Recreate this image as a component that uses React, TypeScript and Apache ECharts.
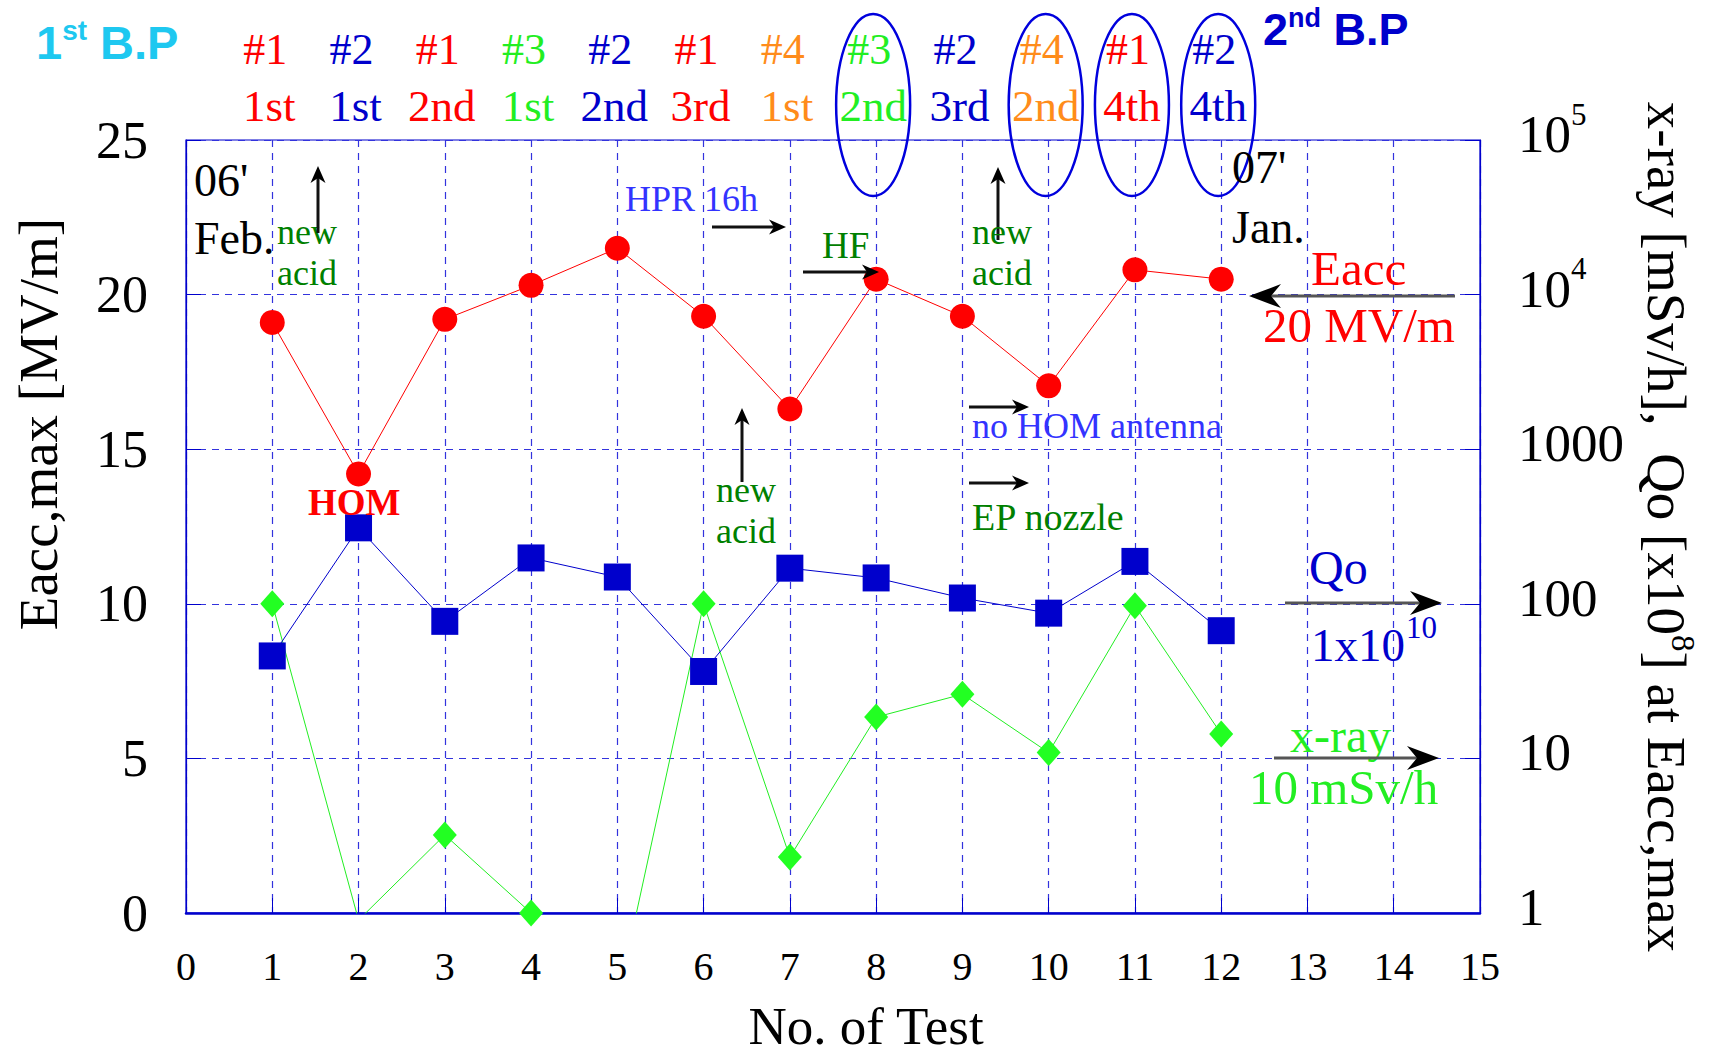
import React, { useEffect, useRef } from 'react';
import * as echarts from 'echarts';

// ---------- data ----------
const tests = [1, 2, 3, 4, 5, 6, 7, 8, 9, 10, 11, 12];
const eaccMax = [19.1, 14.2, 19.2, 20.3, 21.5, 19.3, 16.3, 20.5, 19.3, 17.05, 20.8, 20.5];
// Qo in units of 1e8
const qo = [46, 310, 77, 198, 149, 36.5, 170, 147, 109, 87, 188, 67];
// x-ray in mSv/h at Eacc,max
const xray = [100, 0.9, 3.2, 1.0, 0.27, 100, 2.3, 18.5, 26, 10.9, 97, 14.4];
const cavities = ['#1', '#2', '#1', '#3', '#2', '#1', '#4', '#3', '#2', '#4', '#1', '#2'];
const testOrder = ['1st', '1st', '2nd', '1st', '2nd', '3rd', '1st', '2nd', '3rd', '2nd', '4th', '4th'];
const circled = [false, false, false, false, false, false, false, true, false, true, true, true];
const xRange = [0, 15];
const leftRange = [0, 25];
const rightRange = [1, 100000];

const cavityColor: Record<string, string> = {
  '#1': '#ff0000',
  '#2': '#0000cc',
  '#3': '#22ee22',
  '#4': '#ff8c1a',
};

const SERIF = '"Liberation Serif", "Times New Roman", Times, serif';
const SANS = '"Liberation Sans", Arial, Helvetica, sans-serif';
const BLUE = '#0000cc';
const GRID_BLUE = '#3333dd';
const DKGREEN = '#008000';
const LTBLUE = '#3333ff';
const GREEN = '#22ee22';

function txt(x: number, y: number, text: string, size: number, color: string, opts: any = {}) {
  return {
    type: 'text',
    x,
    y,
    rotation: opts.rotation || 0,
    z: 100,
    silent: true,
    style: {
      text,
      fill: color,
      fontSize: size,
      fontFamily: opts.family || SERIF,
      fontWeight: opts.weight || 'normal',
      align: opts.align || 'left',
      verticalAlign: 'middle',
      textAlign: opts.align || 'left',
      textVerticalAlign: 'middle',
      lineHeight: opts.lineHeight,
      rich: opts.rich,
    },
  };
}

function arrow(x1: number, y1: number, x2: number, y2: number, big: boolean) {
  const L = big ? 32 : 17;
  const W = big ? 12 : 7.5;
  const N = big ? 10 : 5;
  const ang = Math.atan2(y2 - y1, x2 - x1);
  const ux = Math.cos(ang);
  const uy = Math.sin(ang);
  const px = -uy;
  const py = ux;
  const bx = x2 - ux * L;
  const by = y2 - uy * L;
  const nx = x2 - ux * (L - N);
  const ny = y2 - uy * (L - N);
  return [
    {
      type: 'line',
      z: 100,
      silent: true,
      shape: { x1, y1, x2: nx, y2: ny },
      style: { stroke: big ? '#555555' : '#111111', lineWidth: 3 },
    },
    {
      type: 'polygon',
      z: 101,
      silent: true,
      shape: {
        points: [
          [x2, y2],
          [bx + px * W, by + py * W],
          [nx, ny],
          [bx - px * W, by - py * W],
        ],
      },
      style: { fill: '#000000' },
    },
  ];
}

export default function App() {
  const ref = useRef<HTMLDivElement>(null);

  useEffect(() => {
    if (!ref.current) return;
    const chart = echarts.init(ref.current, null, { renderer: 'svg' });

    const headerRender = (params: any, api: any) => {
      const i = params.dataIndex;
      const p = api.coord([api.value(0), api.value(1)]);
      const cx = p[0];
      const top = p[1];
      const color = cavityColor[cavities[i]];
      const children: any[] = [
        {
          type: 'text',
          x: cx - 7,
          y: top - 91,
          style: {
            text: cavities[i],
            fill: color,
            fontSize: 44,
            fontFamily: SERIF,
            align: 'center',
            verticalAlign: 'middle',
            textAlign: 'center',
            textVerticalAlign: 'middle',
          },
        },
        {
          type: 'text',
          x: cx - 3,
          y: top - 34,
          style: {
            text: testOrder[i],
            fill: color,
            fontSize: 45,
            fontFamily: SERIF,
            align: 'center',
            verticalAlign: 'middle',
            textAlign: 'center',
            textVerticalAlign: 'middle',
          },
        },
      ];
      if (circled[i]) {
        children.push({
          type: 'ellipse',
          shape: { cx: cx - 3, cy: top - 35, rx: 37, ry: 91 },
          style: { fill: 'none', stroke: '#0000dd', lineWidth: 2.5 },
        });
      }
      return { type: 'group', children };
    };

    const annotations: any[] = [
      txt(36, 42, '{a|1}{s|st}{a| B.P}', 47, '#1ec8f0', {
        rich: {
          a: { fontSize: 47, fontFamily: SANS, fontWeight: 'bold', color: '#1ec8f0' },
          s: { fontSize: 28, fontFamily: SANS, fontWeight: 'bold', color: '#1ec8f0', padding: [0, 0, 24, 0] },
        },
      }),
      txt(1263, 29, '{a|2}{s|nd}{a| B.P}', 45, BLUE, {
        rich: {
          a: { fontSize: 45, fontFamily: SANS, fontWeight: 'bold', color: BLUE },
          s: { fontSize: 27, fontFamily: SANS, fontWeight: 'bold', color: BLUE, padding: [0, 0, 22, 0] },
        },
      }),
      txt(194, 180, "06'", 46, '#000'),
      txt(194, 238, 'Feb.', 46, '#000'),
      txt(277, 232, 'new', 36, DKGREEN),
      txt(277, 273, 'acid', 36, DKGREEN),
      ...arrow(318, 233, 318, 166, false),
      txt(625, 199, 'HPR 16h', 36, LTBLUE),
      ...arrow(712, 227, 786, 227, false),
      txt(822, 245, 'HF', 37, DKGREEN),
      ...arrow(803, 272, 879, 272, false),
      txt(308, 502, 'HOM', 37, '#ff0000', { weight: 'bold' }),
      ...arrow(742, 482, 742, 408, false),
      txt(716, 490, 'new', 36, DKGREEN),
      txt(716, 531, 'acid', 36, DKGREEN),
      ...arrow(998, 240, 998, 167, false),
      txt(972, 232, 'new', 36, DKGREEN),
      txt(972, 273, 'acid', 36, DKGREEN),
      txt(1232, 167, "07'", 46, '#000'),
      txt(1232, 227, 'Jan.', 46, '#000'),
      ...arrow(969, 407, 1029, 407, false),
      txt(972, 426, 'no HOM antenna', 36, LTBLUE),
      ...arrow(969, 483, 1029, 483, false),
      txt(972, 517, 'EP nozzle', 38, DKGREEN),
      txt(1311, 268, 'Eacc', 49, '#ff0000'),
      ...arrow(1455, 296, 1249, 296, true),
      txt(1263, 325, '20 MV/m', 49, '#ff0000'),
      txt(1309, 567, 'Qo', 48, BLUE),
      ...arrow(1285, 603, 1442, 603, true),
      txt(1311, 645, '1x10', 47, BLUE),
      txt(1406, 627, '10', 31, BLUE),
      txt(1290, 735, 'x-ray', 48, GREEN),
      ...arrow(1274, 758, 1439, 758, true),
      txt(1249, 787, '10 mSv/h', 49, GREEN),
      // axis titles
      txt(38, 424, 'Eacc,max [MV/m]', 55, '#000', { align: 'center', rotation: Math.PI / 2 }),
      txt(866, 1026, 'No. of Test', 53, '#000', { align: 'center', lineHeight: 50 }),
      txt(1666, 527, '{a|x-ray [mSv/h],  Qo [x10}{s|8}{a|] at Eacc,max}', 55, '#000', {
        align: 'center',
        rotation: -Math.PI / 2,
        rich: {
          a: { fontSize: 55, fontFamily: SERIF, color: '#000' },
          s: { fontSize: 33, fontFamily: SERIF, color: '#000', padding: [0, 0, 34, 0] },
        },
      }),
    ];

    const dashed = { color: GRID_BLUE, width: 1.2, type: [7, 6] as any };

    chart.setOption({
      animation: false,
      backgroundColor: '#ffffff',
      grid: {
        left: 186,
        right: 233,
        top: 140,
        bottom: 142,
        show: true,
        borderColor: BLUE,
        borderWidth: 1.2,
        backgroundColor: 'transparent',
      },
      xAxis: {
        type: 'value',
        min: xRange[0],
        max: xRange[1],
        interval: 1,
        axisLine: { show: true, onZero: false, lineStyle: { color: BLUE, width: 2.5 } },
        axisTick: { show: true, inside: true, length: 15, lineStyle: { color: BLUE, width: 1 } },
        splitLine: { show: true, lineStyle: dashed },
        axisLabel: { fontSize: 40, fontFamily: SERIF, color: '#000', margin: 33 },
      },
      yAxis: [
        {
          type: 'value',
          position: 'left',
          min: leftRange[0],
          max: leftRange[1],
          interval: 5,
          axisLine: { show: true, lineStyle: { color: BLUE, width: 1.2 } },
          axisTick: { show: true, inside: true, length: 15, lineStyle: { color: BLUE, width: 1 } },
          splitLine: { show: true, lineStyle: dashed },
          axisLabel: {
            fontSize: 52,
            fontFamily: SERIF,
            color: '#000',
            margin: 38,
            padding: [0, 0, 14, 0],
          },
        },
        {
          type: 'log',
          logBase: 10,
          position: 'right',
          min: rightRange[0],
          max: rightRange[1],
          axisLine: { show: true, lineStyle: { color: BLUE, width: 1.2 } },
          axisTick: { show: true, inside: true, length: 15, lineStyle: { color: BLUE, width: 1 } },
          splitLine: { show: false },
          minorTick: { show: false },
          axisLabel: {
            margin: 38,
            padding: [0, 0, 12, 0],
            formatter: (v: number) => {
              const r = Math.round(v);
              const e = Math.round(Math.log10(r));
              return e >= 4 ? `{b|10}{s|${e}}` : `{b|${r}}`;
            },
            rich: {
              b: { fontSize: 53, fontFamily: SERIF, color: '#000' },
              s: { fontSize: 31, fontFamily: SERIF, color: '#000', padding: [0, 0, 40, 0] },
            },
          },
        },
      ],
      series: [
        {
          name: 'x-ray',
          type: 'line',
          yAxisIndex: 1,
          data: tests.map((t, i) => [t, xray[i]]),
          symbol: 'diamond',
          symbolSize: [24, 27],
          showAllSymbol: true,
          clip: true,
          lineStyle: { color: GREEN, width: 1 },
          itemStyle: { color: '#22ff22' },
          z: 3,
        },
        {
          name: 'Qo',
          type: 'line',
          yAxisIndex: 1,
          data: tests.map((t, i) => [t, qo[i]]),
          symbol: 'rect',
          symbolSize: 27,
          showAllSymbol: true,
          clip: true,
          lineStyle: { color: BLUE, width: 1 },
          itemStyle: { color: BLUE },
          z: 4,
        },
        {
          name: 'Eacc',
          type: 'line',
          yAxisIndex: 0,
          data: tests.map((t, i) => [t, eaccMax[i]]),
          symbol: 'circle',
          symbolSize: 25,
          showAllSymbol: true,
          clip: true,
          lineStyle: { color: '#ff0000', width: 1 },
          itemStyle: { color: '#ff0000' },
          z: 5,
        },
        {
          name: 'header',
          type: 'custom',
          yAxisIndex: 0,
          silent: true,
          clip: false,
          data: tests.map((t) => [t, leftRange[1]]),
          encode: { x: 0, y: 1 },
          renderItem: headerRender,
          z: 10,
        },
      ],
      graphic: annotations,
    });

    return () => {
      chart.dispose();
    };
  }, []);

  return (
    <div
      ref={ref}
      style={{ position: 'absolute', left: 0, top: 0, width: 1713, height: 1055, background: '#fff' }}
    />
  );
}
